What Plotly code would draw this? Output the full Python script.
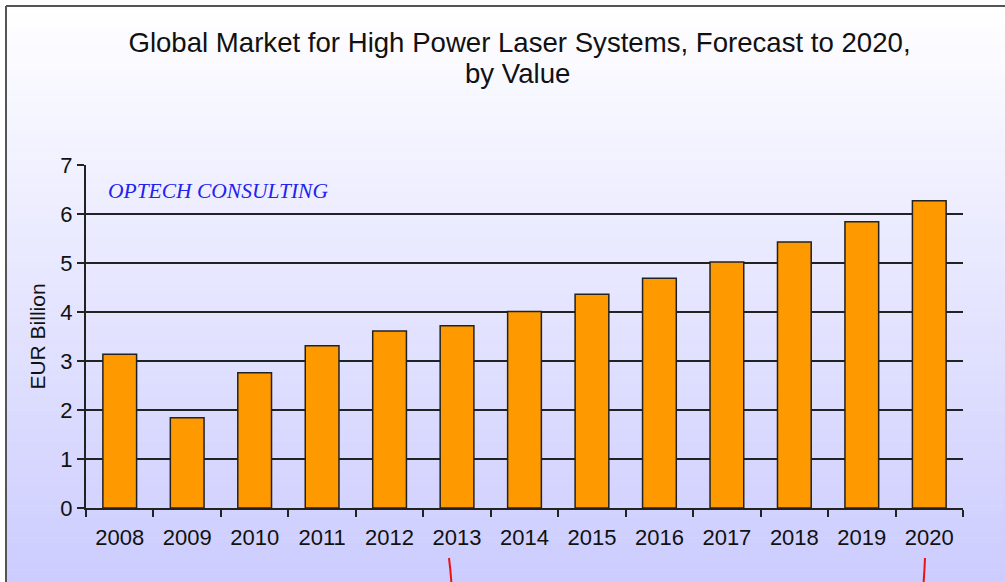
import plotly.graph_objects as go

years = ["2008", "2009", "2010", "2011", "2012", "2013", "2014",
         "2015", "2016", "2017", "2018", "2019", "2020"]
values = [3.14, 1.84, 2.76, 3.31, 3.61, 3.72, 4.01,
          4.36, 4.69, 5.02, 5.43, 5.84, 6.27]
y_ticks = [0, 1, 2, 3, 4, 5, 6, 7]
title_line1 = "Global Market for High Power Laser Systems, Forecast to 2020,"
title_line2 = "by Value"

W, H = 1005, 582
L, R, T, B = 86, 963, 165, 508


def px(x):
    return (x - L) / (R - L)


def py(y):
    return (B - y) / (B - T)


fig = go.Figure()
fig.add_trace(go.Bar(
    x=years, y=values, width=0.5,
    marker=dict(color="#FF9900", line=dict(color="#222222", width=1.5)),
    hoverinfo="x+y",
))

shapes = []
# gradient background
N = 90
top_y, bot_y = 6, H
c0 = (255, 255, 255)
c1 = (204, 204, 255)
for i in range(N):
    ya = top_y + (bot_y - top_y) * i / N
    yb = top_y + (bot_y - top_y) * (i + 1) / N + 0.6
    t = (i + 0.5) / N
    col = tuple(round(c0[k] + (c1[k] - c0[k]) * t) for k in range(3))
    shapes.append(dict(type="rect", xref="paper", yref="paper", layer="below",
                       x0=px(6), x1=px(W + 5), y0=py(ya), y1=py(yb),
                       fillcolor="rgb(%d,%d,%d)" % col, line=dict(width=0)))
# frame
shapes.append(dict(type="line", xref="paper", yref="paper", layer="above",
                   x0=px(6), x1=px(6), y0=py(6), y1=py(H + 5),
                   line=dict(color="#555555", width=2)))
shapes.append(dict(type="line", xref="paper", yref="paper", layer="above",
                   x0=px(6), x1=px(W + 5), y0=py(6), y1=py(6),
                   line=dict(color="#555555", width=2)))
# red marker strokes at bottom
for (xa, xb) in [(449, 451.5), (925, 923.5)]:
    shapes.append(dict(type="path", xref="paper", yref="paper", layer="above",
                       path="M %f,%f Q %f,%f %f,%f" % (
                           px(xa), py(558), px((xa + xb) / 2 + 0.3), py(570),
                           px(xb), py(584)),
                       line=dict(color="#EE1111", width=2)))

fig.update_layout(
    width=W, height=H,
    margin=dict(l=L, r=W - R, t=T, b=H - B),
    paper_bgcolor="white",
    plot_bgcolor="rgba(0,0,0,0)",
    font=dict(family="Liberation Sans, Arial, sans-serif", color="#111111"),
    title=dict(text=title_line1, xref="container", yref="container",
               x=519.5 / W, xanchor="center", y=1 - 42 / H, yanchor="middle",
               font=dict(size=27.6, color="#111111")),
    showlegend=False,
    shapes=shapes,
    xaxis=dict(
        type="category", showgrid=False, showline=True, linecolor="#222222",
        linewidth=2, ticks="outside", tickson="boundaries", ticklen=7,
        tickcolor="#222222", tickwidth=1.5, ticklabelstandoff=9,
        tickfont=dict(size=22, color="#111111"),
        range=[-0.5, len(years) - 0.5],
    ),
    yaxis=dict(
        range=[0, 7], tickvals=y_ticks, showgrid=True, gridcolor="#222222",
        gridwidth=1.5, showline=True, linecolor="#222222", linewidth=2,
        ticks="outside", ticklen=7, tickcolor="#222222", tickwidth=1.5,
        tickfont=dict(size=22, color="#111111"), zeroline=False,
        title=dict(text="EUR Billion", font=dict(size=21, color="#111111"),
                   standoff=9),
    ),
    annotations=[
        dict(text=title_line2, xref="paper", yref="paper",
             x=px(517), y=py(73), xanchor="center", yanchor="middle",
             showarrow=False, font=dict(size=27.6, color="#111111")),
        dict(text="<i>OPTECH CONSULTING</i>", xref="paper", yref="paper",
             x=px(106), y=py(191), xanchor="left", yanchor="middle", showarrow=False,
             font=dict(family="Liberation Serif, Times New Roman, serif", size=21.5,
                       color="#2222EE")),
    ],
)

fig.write_html("out.html", config={"displayModeBar": False},
               post_script="document.body.style.margin='0';document.body.style.padding='0';")
